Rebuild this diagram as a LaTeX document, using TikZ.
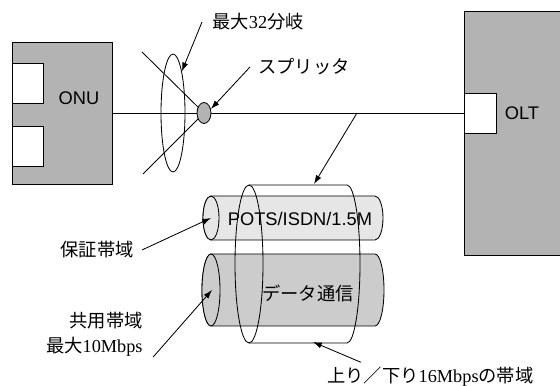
\documentclass[tikz,border=0pt]{standalone}
\usepackage{fontspec}
\setmainfont{Liberation Serif}
\setsansfont{Liberation Sans}
\newfontfamily\jp{Noto Sans CJK JP}
\usetikzlibrary{arrows.meta, shapes.geometric}
\definecolor{cbox}{HTML}{B3B3B3}
\definecolor{cpots}{HTML}{E6E6E6}
\definecolor{cdata}{HTML}{CCCCCC}
\tikzset{
  every picture/.style={line width=0.6pt},
  unit/.style={draw, fill=cbox, inner sep=0pt},
  port/.style={draw, fill=white, inner sep=0pt, minimum width=0.8cm, minimum height=1cm},
  tag/.style={font=\sffamily\fontsize{13}{16}\selectfont, inner sep=0pt},
  note/.style={font=\fontsize{13}{18}\selectfont, inner sep=0pt},
  pointer/.style={-{Latex[length=2.2mm, width=1.5mm]}},
}

\begin{document}
\begin{tikzpicture}
  \useasboundingbox (0,0) rectangle (14,9.65);
  % ONU side
  \node[unit, minimum width=2.5cm, minimum height=3.55cm] (onu) at (1.55,6.825) {};
  \node[port, minimum width=0.775cm, anchor=west] (onua) at (0.3,7.575) {};
  \node[port, minimum width=0.775cm, anchor=west] (onub) at (0.3,6.0) {};
  \node[tag] (onulabel) at (1.975,7.2) {ONU};
  % OLT side
  \node[unit, minimum width=2.45cm, minimum height=6.1cm] (olt) at (12.825,6.325) {};
  \node[port, anchor=west] (oltport) at (11.6,6.825) {};
  \node[tag] (oltlabel) at (13.05,6.825) {OLT};
  % fibre, splitter and branches
  \coordinate (split) at (5.1,6.825);
  \coordinate (bra) at (3.55,8.35);
  \coordinate (brb) at (3.575,5.3);
  \coordinate (tap) at (8.925,6.825);
  \draw (onu.east) -- (oltport.west);
  \draw (bra) -- (split) -- (brb);
  \node[draw, fill=cbox, ellipse, minimum width=0.35cm, minimum height=0.525cm, inner sep=0pt] (splitter) at (split) {};
  \node[draw, ellipse, minimum width=0.6cm, minimum height=2.95cm, inner sep=0pt] (fan) at (4.325,6.825) {};
  \node[note, anchor=west] (lmax) at (5.3,9.1) {{\jp 最大}32{\jp 分岐}};
  \node[note, anchor=west] (lsplit) at (6.45,7.975) {\jp スプリッタ};
  \draw[pointer] ([xshift=-0.25cm]lmax.west) -- (fan.78);
  \draw[pointer] ([xshift=-0.2cm]lsplit.west) -- (splitter.30);
  % services inside the band
  \draw[fill=cpots] (5.275,4.75) -- (9.375,4.75) arc[start angle=90, end angle=-90, x radius=0.2, y radius=0.55] -- (5.275,3.65) arc[start angle=270, end angle=90, x radius=0.2, y radius=0.55] -- cycle;
  \draw[fill=cpots] (5.275,4.2) ellipse[x radius=0.2, y radius=0.55];
  \draw[fill=cdata] (5.275,3.3) -- (9.375,3.3) arc[start angle=90, end angle=-90, x radius=0.225, y radius=0.9] -- (5.275,1.5) arc[start angle=270, end angle=90, x radius=0.225, y radius=0.9] -- cycle;
  \draw[fill=cdata] (5.275,2.4) ellipse[x radius=0.225, y radius=0.9];
  \coordinate (potsend) at (5.275,4.2);
  \coordinate (dataend) at (5.3,2.4);
  \node[tag] (potslabel) at (7.5,4.175) {POTS/ISDN/1.5M};
  \node[tag] (datalabel) at (7.7,2.325) {\jp データ通信};
  % the whole band
  \draw (6.225,5.025) -- (8.675,5.025) arc[start angle=90, end angle=-90, x radius=0.325, y radius=1.975] -- (6.225,1.075);
  \draw (6.225,3.05) ellipse[x radius=0.35, y radius=1.975];
  \coordinate (bandtop) at (7.85,5.05);
  \coordinate (bandbot) at (7.825,1.1);
  \draw[pointer] (tap) -- (bandtop);
  % labels below
  \node[note] (lguar) at (2.425,3.4) {\jp 保証帯域};
  \node[note, align=right, anchor=east] (lshared) at (3.575,1.2875) {{\jp 共用帯域}\\{\jp 最大}10Mbps};
  \node[note] (lband) at (10.76,0.22) {{\jp 上り／下り}16Mbps{\jp の帯域}};
  \draw[pointer] ([xshift=0.2cm]lguar.east) -- (potsend);
  \draw[pointer] ([xshift=0.25cm]lshared.south east) -- (dataend);
  \draw[pointer] ([shift={(0.85,0.12)}]lband.north west) -- (bandbot);
\end{tikzpicture}
\end{document}
